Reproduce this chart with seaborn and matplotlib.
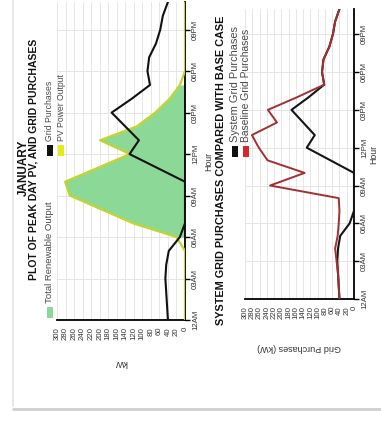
import matplotlib
matplotlib.use("Agg")
import matplotlib.pyplot as plt
from matplotlib.patches import Rectangle
from matplotlib.lines import Line2D
import numpy as np
import pandas as pd
import seaborn as sns

# ---- data -------------------------------------------------------------
hours = list(range(24))
hour_ticks = [0, 3, 6, 9, 12, 15, 18, 21]
hour_labels = ["12AM", "03AM", "06AM", "09AM", "12PM", "03PM", "06PM", "09PM"]
kw_ticks = list(range(0, 301, 20))

pv_output = [0, 0, 0, 0, 0, 0, 20, 122, 196, 270, 281, 205,
             129, 199, 113, 70, 36, 12, 0, 0, 0, 0, 0, 0]
grid_purchases = [40, 42, 44, 46, 44, 38, 12, 0, 0, 0, 0, 65,
                  130, 108, 140, 172, 125, 82, 88, 84, 68, 58, 52, 40]
baseline_purchases = [40, 42, 44, 48, 52, 45, 42, 40, 42, 231, 136, 238,
                      262, 281, 212, 237, 157, 82, 88, 84, 68, 58, 52, 40]

# ---- style ------------------------------------------------------------
sns.set_style("white")
plt.rcParams["font.family"] = ["Liberation Sans", "DejaVu Sans"]

W, H = 381, 421
fig = plt.figure(figsize=(W / 100, H / 100), dpi=100)
fig.patch.set_facecolor("white")


def fx(px):
    return px / W


def fy(py):
    return 1 - py / H


def make_axes(x0, x1, y0, y1):
    return fig.add_axes([fx(x0), fy(y1), (x1 - x0) / W, (y1 - y0) / H])


def style_axes(ax, xlabel, xlabelpad, ylabelpad, tick_fs=5.6):
    ax.set_xlim(300, 0)
    ax.set_ylim(0, 23)
    ax.set_xticks(kw_ticks)
    ax.set_xticklabels([str(t) for t in kw_ticks], rotation=90, fontsize=tick_fs)
    ax.yaxis.tick_right()
    ax.yaxis.set_label_position("right")
    ax.set_yticks(hour_ticks)
    ax.set_yticklabels(hour_labels, rotation=90, va="center", fontsize=tick_fs)
    ax.grid(True, color="#e2e2e2", lw=0.6)
    ax.set_axisbelow(True)
    for side in ("left", "top"):
        ax.spines[side].set_visible(False)
    for side in ("bottom", "right"):
        ax.spines[side].set_color("black")
        ax.spines[side].set_linewidth(1.3)
    ax.tick_params(axis="both", direction="out", length=3.5, width=1,
                   color="black", pad=1.5, labelcolor="#333333")
    ax.set_xlabel(xlabel, rotation=180, fontsize=6.5, labelpad=xlabelpad,
                  color="#333333")
    ax.set_ylabel("Hour", rotation=90, fontsize=6.3, labelpad=ylabelpad,
                  color="#333333")


df = pd.DataFrame({
    "hour": hours,
    "pv": pv_output,
    "grid": grid_purchases,
    "baseline": baseline_purchases,
})
renewable = np.array(pv_output, dtype=float)

# ---- peak day PV and grid purchases ------------------------------------
ax1 = make_axes(57, 185, 2, 320)
ax1.fill_betweenx(df["hour"], 0, renewable, where=renewable > 0,
                  color="#8cd896", lw=0, zorder=2)
sns.lineplot(data=df, x="pv", y="hour", orient="y", sort=False, estimator=None,
             color="#c4d42c", lw=1.6, ax=ax1, zorder=3)
sns.lineplot(data=df, x="grid", y="hour", orient="y", sort=False, estimator=None,
             color="#111111", lw=1.5, ax=ax1, zorder=4)
style_axes(ax1, "kW", xlabelpad=13, ylabelpad=4)

# ---- system grid purchases vs base case -------------------------------
ax2 = make_axes(245, 354, 9, 299)
sns.lineplot(data=df, x="grid", y="hour", orient="y", sort=False, estimator=None,
             color="#151515", lw=1.5, ax=ax2, zorder=3)
sns.lineplot(data=df, x="baseline", y="hour", orient="y", sort=False, estimator=None,
             color="#a23030", lw=1.4, ax=ax2, zorder=4)
style_axes(ax2, "Grid Purchases (kW)", xlabelpad=17, ylabelpad=1)

# ---- titles -----------------------------------------------------------
fig.text(fx(24), fy(168), "JANUARY", rotation=90, ha="center", va="center",
         fontsize=8.5, fontweight="bold", color="#111111")
fig.text(fx(34), fy(159), "PLOT OF PEAK DAY PV, AND GRID PURCHASES", rotation=90,
         ha="center", va="center", fontsize=7.5, fontweight="bold", color="#111111")
fig.text(fx(221), fy(170), "SYSTEM GRID PURCHASES COMPARED WITH BASE CASE",
         rotation=90, ha="center", va="center", fontsize=7.8, fontweight="bold",
         color="#111111")


# ---- legends (drawn sideways alongside the rotated axes) ---------------
def legend_item(x, y, color, label, fs):
    fig.add_artist(Rectangle((fx(x - 3), fy(y + 13)), 6 / W, 11 / H,
                             transform=fig.transFigure, facecolor=color,
                             edgecolor="none"))
    fig.text(fx(x), fy(y - 2), label, rotation=90, ha="center", va="bottom",
             fontsize=fs, color="#4a4a4a")


legend_item(50, 305, "#8cd896", "Total Renewable Output", 6.8)
legend_item(50, 143, "#111111", "Grid Purchases", 6.2)
legend_item(61, 143, "#e3e91c", "PV Power Output", 6.2)
legend_item(235, 144, "#111111", "System Grid Purchases", 7.9)
legend_item(246, 144, "#d9262c", "Baseline Grid Purchases", 7.4)

# ---- page edges -------------------------------------------------------
fig.add_artist(Line2D([fx(13), fx(13)], [fy(0), fy(406)], transform=fig.transFigure,
                      color="#e4e4e4", lw=1.2))
fig.add_artist(Line2D([fx(13), fx(381)], [fy(409), fy(409)], transform=fig.transFigure,
                      color="#cfcfcf", lw=2))

fig.savefig("out.png", dpi=100, facecolor="white")
